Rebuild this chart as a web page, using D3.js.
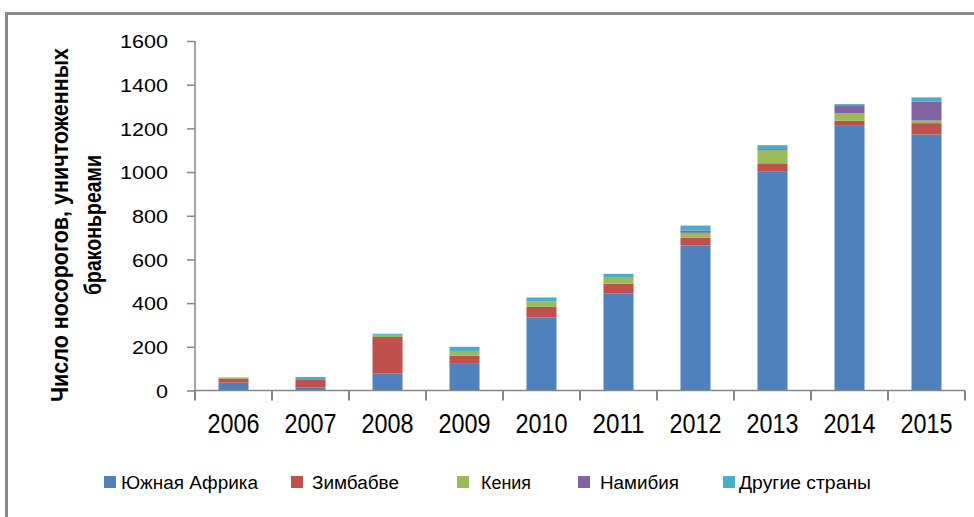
<!DOCTYPE html>
<html>
<head>
<meta charset="utf-8">
<script src="https://cdn.jsdelivr.net/npm/d3@7"></script>
<style>
  html, body { margin: 0; padding: 0; background: #fff; }
  svg { display: block; }
</style>
</head>
<body>
<svg id="chart" width="974" height="517"></svg>
<script>
// ---- data ----
const years = ["2006","2007","2008","2009","2010","2011","2012","2013","2014","2015"];
const southAfrica = [36, 13, 77, 122, 334, 444, 664, 1004, 1215, 1172];
const zimbabwe    = [17, 35, 168, 38, 49, 45, 36, 36, 21, 52];
const kenya       = [7, 0, 10, 21, 24, 27, 22, 60, 34, 12];
const namibia     = [0, 0, 0, 0, 0, 0, 10, 5, 36, 87];
const others      = [0, 14, 5, 19, 19, 18, 23, 18, 5, 19];
const seriesNames = ["Южная Африка", "Зимбабве", "Кения", "Намибия", "Другие страны"];
const seriesColors = ["#4F81BD", "#C0504D", "#9BBB59", "#8064A2", "#4BACC6"];
const yTicks = [0, 200, 400, 600, 800, 1000, 1200, 1400, 1600];
const yTitleLines = ["Число носорогов, уничтоженных", "браконьреами"];

// ---- build table ----
const keys = ["sa", "zw", "ke", "na", "ot"];
const cols = [southAfrica, zimbabwe, kenya, namibia, others];
const rows = years.map((yr, i) => {
  const r = { year: yr };
  keys.forEach((k, j) => r[k] = cols[j][i]);
  return r;
});
const stacked = d3.stack().keys(keys)(rows);

const svg = d3.select("#chart");
const axisColor = "#868686";

// frame
svg.append("path")
  .attr("d", "M6.5,517 L6.5,13.5 L974,13.5")
  .attr("fill", "none").attr("stroke", "#8a8a8a").attr("stroke-width", 3);

const x = d3.scaleBand().domain(years).range([195, 965]).paddingInner(0.61).paddingOuter(0.305);
const y = d3.scaleLinear().domain([0, 1600]).range([390.5, 41]);

// bars
svg.append("g").selectAll("g").data(stacked).join("g")
  .attr("fill", (d, i) => seriesColors[i])
  .selectAll("rect").data(d => d).join("rect")
  .attr("x", d => x(d.data.year))
  .attr("width", x.bandwidth())
  .attr("y", d => y(d[1]))
  .attr("height", d => Math.max(0, y(d[0]) - y(d[1])));

// y axis
const yAxis = svg.append("g").attr("transform", "translate(195,0)")
  .call(d3.axisLeft(y).tickValues(yTicks).tickFormat(d => String(d)).tickSize(8).tickPadding(19).tickSizeOuter(0));
yAxis.select(".domain").attr("stroke", axisColor).attr("stroke-width", 1.5)
  .attr("d", `M0,${y(1600)}V${y(0) + 9.5}`);
yAxis.selectAll(".tick line").attr("stroke", axisColor).attr("stroke-width", 1.5);
yAxis.selectAll(".tick text")
  .attr("fill", "#000")
  .style("font-family", "'Liberation Sans', Arial, sans-serif")
  .style("font-size", "19px")
  .attr("dy", "0.36em")
  .attr("textLength", d => String(d).length * 12)
  .attr("lengthAdjust", "spacingAndGlyphs");

// x axis
const xAxis = svg.append("g").attr("transform", `translate(0,${y(0)})`)
  .call(d3.axisBottom(x).tickSize(0).tickPadding(0).tickSizeOuter(0));
xAxis.select(".domain").attr("stroke", axisColor).attr("stroke-width", 1.5)
  .attr("d", `M195,0H965`);
xAxis.selectAll(".tick text")
  .attr("fill", "#000")
  .style("font-family", "'Liberation Sans', Arial, sans-serif")
  .style("font-size", "27px")
  .attr("y", 42.5).attr("dy", 0)
  .attr("textLength", 52)
  .attr("lengthAdjust", "spacingAndGlyphs");
// boundary ticks
const step = x.step();
const bounds = years.map(yr => x(yr) - (step - x.bandwidth()) / 2).concat([x(years[years.length - 1]) + x.bandwidth() + (step - x.bandwidth()) / 2]);
xAxis.append("g").selectAll("line").data(bounds).join("line")
  .attr("x1", d => d).attr("x2", d => d)
  .attr("y1", 0).attr("y2", 10)
  .attr("stroke", axisColor).attr("stroke-width", 2);

// y title
const yt = svg.append("g").attr("transform", "translate(0,225) rotate(-90)");
yt.selectAll("text").data(yTitleLines).join("text")
  .attr("x", 0)
  .attr("y", (d, i) => i === 0 ? 68 : 101)
  .attr("text-anchor", "middle")
  .style("font-family", "'Liberation Sans', Arial, sans-serif")
  .style("font-size", "23px")
  .style("font-weight", "bold")
  .attr("fill", "#000")
  .attr("textLength", (d, i) => i === 0 ? 354 : 140)
  .attr("lengthAdjust", "spacingAndGlyphs")
  .text(d => d);

// legend
const legX = [104, 291, 457, 578, 723];
const legTextX = [121, 312, 481, 600, 739];
const legTextW = [137, 87, 50, 79, 132];
const leg = svg.append("g");
seriesNames.forEach((name, i) => {
  leg.append("rect").attr("x", legX[i]).attr("y", 476).attr("width", 12).attr("height", 12)
    .attr("fill", seriesColors[i]);
  leg.append("text").attr("x", legTextX[i]).attr("y", 489)
    .style("font-family", "'Liberation Sans', Arial, sans-serif")
    .style("font-size", "18px")
    .attr("fill", "#000")
    .attr("textLength", legTextW[i])
    .attr("lengthAdjust", "spacingAndGlyphs")
    .text(name);
});
</script>
</body>
</html>
